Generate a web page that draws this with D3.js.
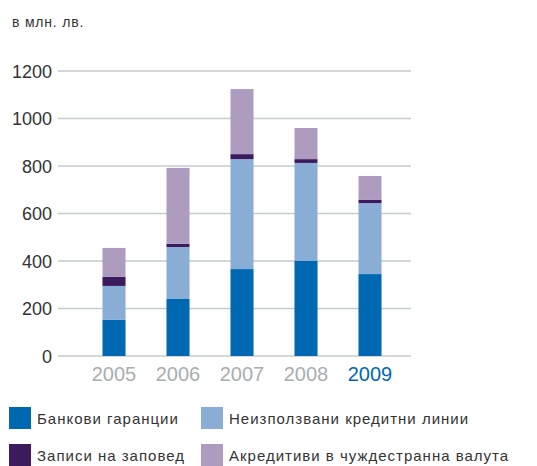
<!DOCTYPE html>
<html lang="bg">
<head>
<meta charset="utf-8">
<script src="https://cdn.jsdelivr.net/npm/d3@7"></script>
<style>
body{margin:0;background:#fff;}
svg{display:block;font-family:"Liberation Sans",Arial,sans-serif;}
</style>
</head>
<body>
<svg id="chart" width="537" height="466" lang="bg"></svg>
<script>
const years = ["2005","2006","2007","2008","2009"];
const bankGuarantees = [152, 240, 366, 400, 345];
const unusedCredit = [143, 219, 463, 413, 299];
const promissoryNotes = [38, 13, 21, 16, 13];
const letters = [122, 320, 274, 131, 101];
const seriesNames = ["Банкови гаранции","Неизползвани кредитни линии","Записи на заповед","Акредитиви в чуждестранна валута"];
const seriesColors = ["#0068b0","#8aadd6","#3d1a5e","#ad9cbf"];
const yTicks = [0,200,400,600,800,1000,1200];
const unitLabel = "в млн. лв.";

const svg = d3.select("#chart");
const y = d3.scaleLinear().domain([0,1200]).range([356,71]);
const x = d3.scaleBand().domain(years).range([82,402]).paddingInner(0.64).paddingOuter(0.32);

const seriesArr = [bankGuarantees, unusedCredit, promissoryNotes, letters];
const data = years.map((yr,i)=>{const o={year:yr}; seriesArr.forEach((s,j)=>o["s"+j]=s[i]); return o;});
const stack = d3.stack().keys(["s0","s1","s2","s3"])(data);

// grid
svg.append("g").selectAll("line").data(yTicks).join("line")
  .attr("x1",58).attr("x2",411)
  .attr("y1",d=>y(d)).attr("y2",d=>y(d))
  .attr("stroke","#c6cbce").attr("stroke-width",1.5);

svg.append("g").selectAll("text").data(yTicks).join("text")
  .attr("x",52).attr("y",d=>y(d)+6.5)
  .attr("text-anchor","end").attr("font-size",18).attr("fill","#333")
  .text(d=>d);

svg.append("text").attr("x",12).attr("y",27).attr("font-size",14).attr("letter-spacing",0.8).attr("fill","#333").text(unitLabel);

// bars
svg.append("g").selectAll("g").data(stack).join("g")
  .attr("fill",(d,i)=>seriesColors[i])
  .selectAll("rect").data(d=>d).join("rect")
  .attr("x",d=>x(d.data.year)).attr("width",x.bandwidth())
  .attr("y",d=>y(d[1])).attr("height",d=>y(d[0])-y(d[1]));

// x labels
svg.append("g").selectAll("text").data(years).join("text")
  .attr("x",d=>x(d)+x.bandwidth()/2).attr("y",381)
  .attr("text-anchor","middle").attr("font-size",20)
  .attr("fill",(d,i)=>i===years.length-1?"#0068b0":"#a9aeb1")
  .text(d=>d);

// legend
const legPos = [[9,407],[201,407],[9,444],[201,444]];
const lg = svg.append("g").selectAll("g").data(seriesNames).join("g")
  .attr("transform",(d,i)=>`translate(${legPos[i][0]},${legPos[i][1]})`);
lg.append("rect").attr("width",22).attr("height",22).attr("fill",(d,i)=>seriesColors[i]);
lg.append("text").attr("x",28).attr("y",17).attr("font-size",15).attr("letter-spacing",1).attr("fill","#333").text(d=>d);
</script>
</body>
</html>
